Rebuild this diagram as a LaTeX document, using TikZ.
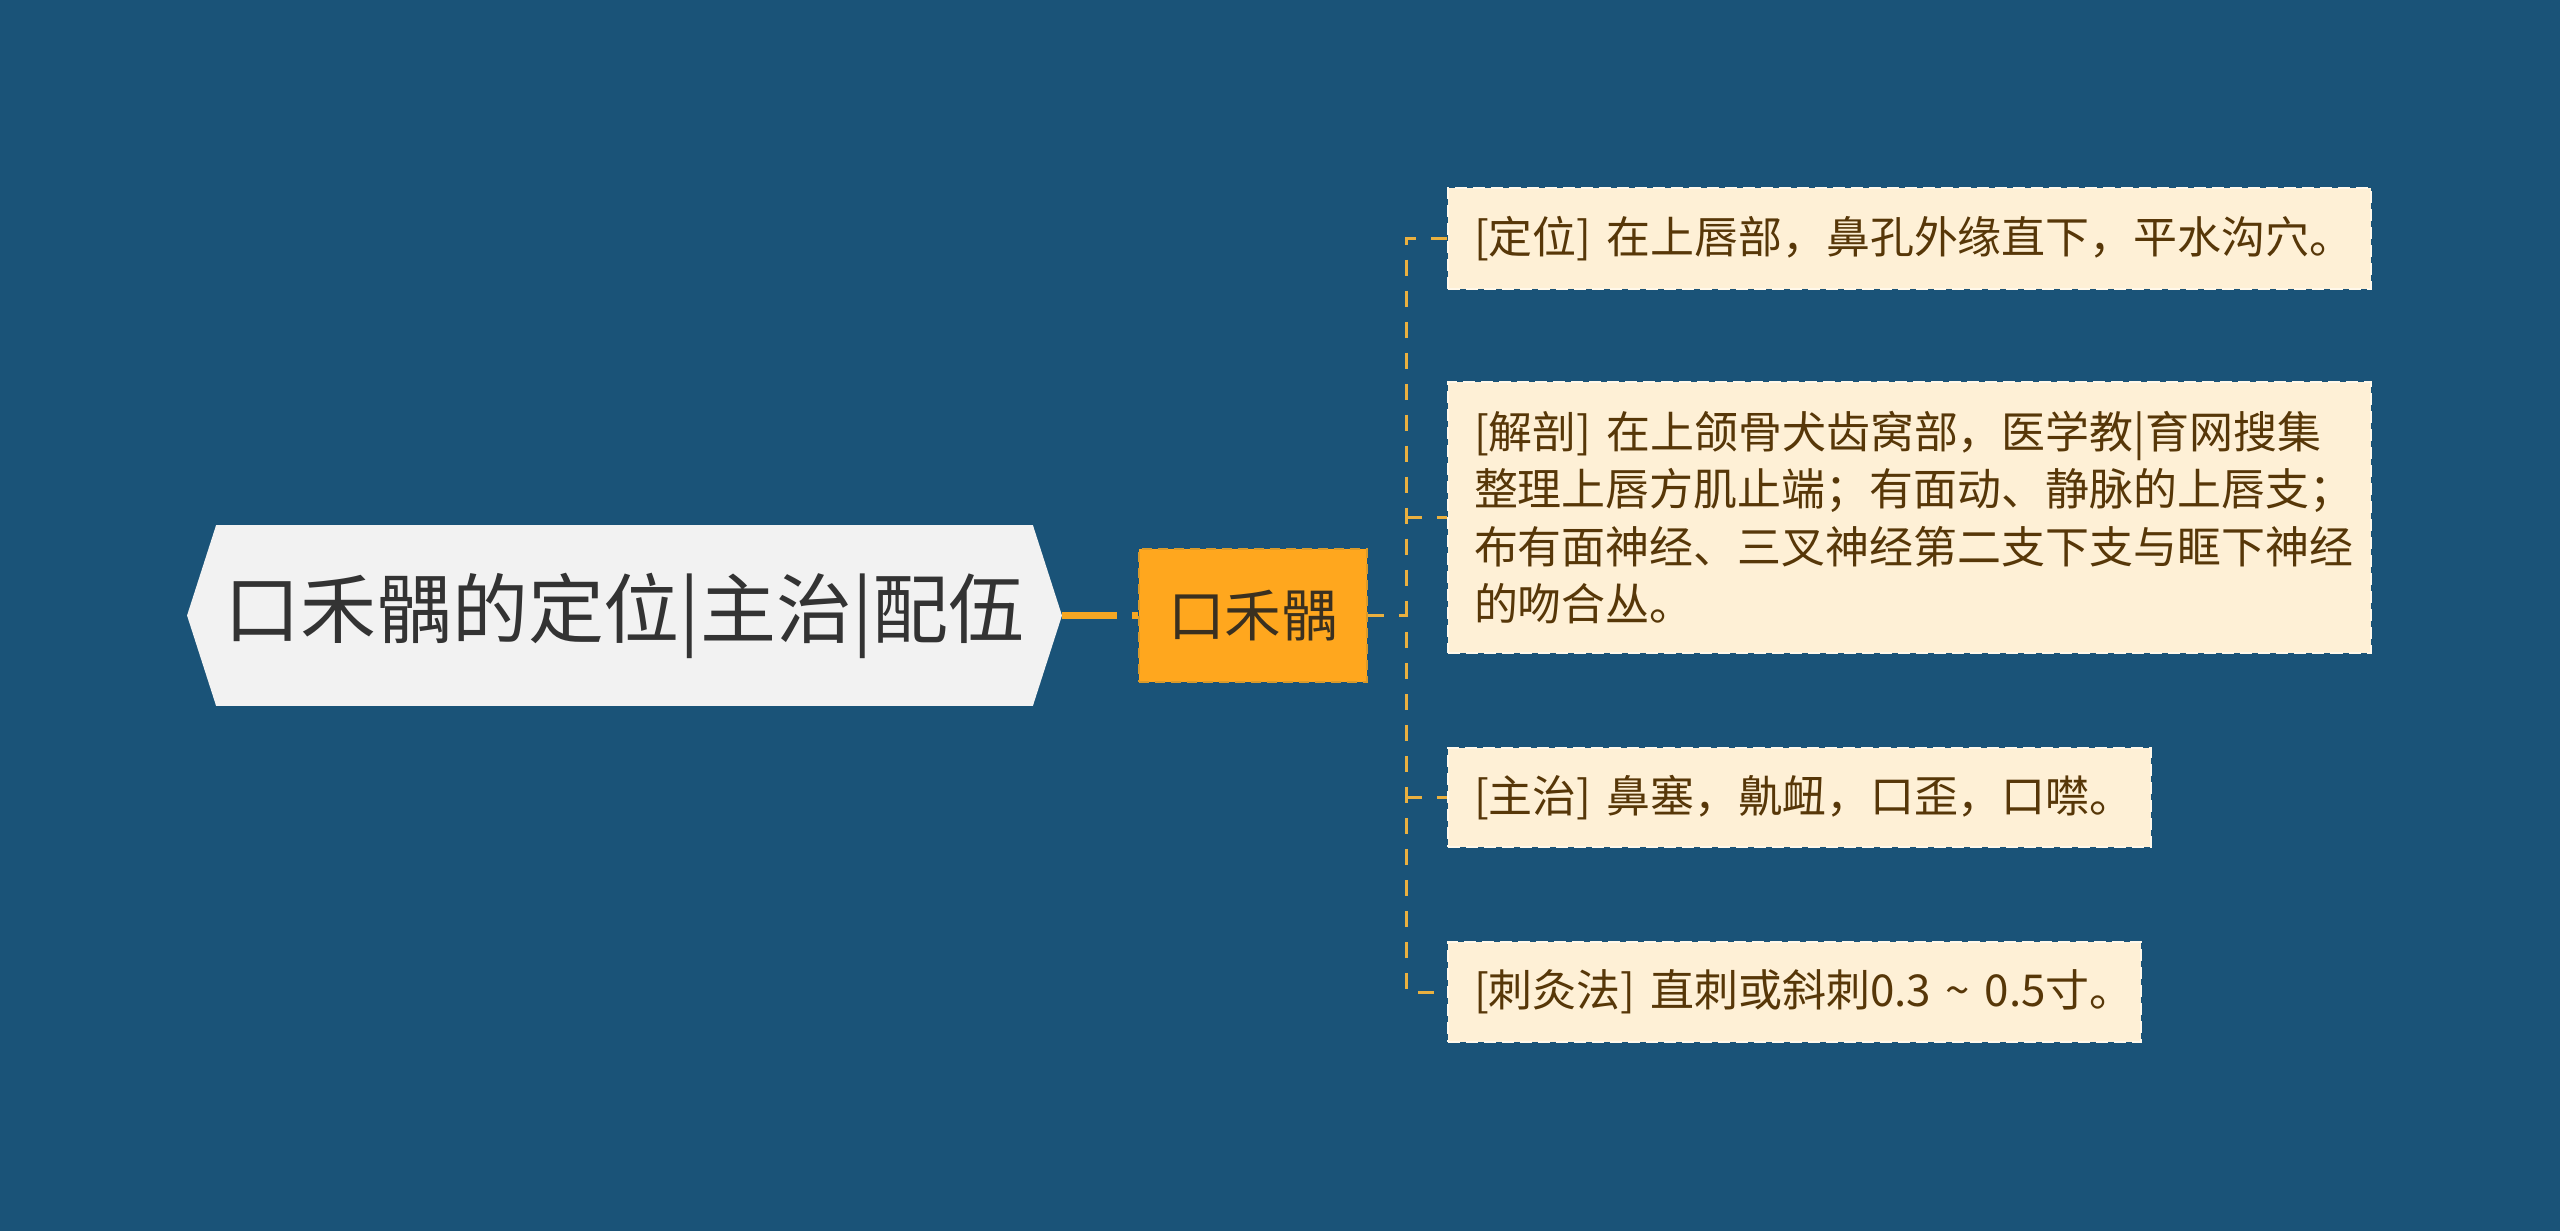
\documentclass[tikz,border=0pt]{standalone}
\usepackage{fontspec}
\setmainfont{Noto Sans CJK SC}
\usetikzlibrary{backgrounds}
\definecolor{bgblue}{HTML}{1A5378}
\definecolor{rootfill}{HTML}{F2F2F2}
\definecolor{roottext}{HTML}{333333}
\definecolor{midfill}{HTML}{FFA71E}
\definecolor{midborder}{HTML}{D99A2B}
\definecolor{midtext}{HTML}{3A3020}
\definecolor{leaffill}{HTML}{FEF0D6}
\definecolor{leafborder}{HTML}{FFF8EA}
\definecolor{leaftext}{HTML}{573708}
\definecolor{linkorange}{HTML}{F5A623}
\definecolor{linkgold}{HTML}{E9B040}
\begin{document}
\begin{tikzpicture}[x=0.01cm,y=-0.01cm,
  rootnode/.style={inner sep=0pt, minimum width=8.73cm, minimum height=1.79cm, text=roottext, font=\fontsize{21.6}{25}\selectfont},
  midnode/.style={fill=midfill, draw=midborder, line width=0.02cm, dash pattern=on 0.1cm off 0.06cm, minimum width=2.28cm, minimum height=1.33cm, inner sep=0pt, text=midtext, font=\fontsize{16.1}{19}\selectfont},
  leafnode/.style={anchor=west, fill=leaffill, draw=leafborder, line width=0.02cm, dash pattern=on 0.12cm off 0.06cm, inner xsep=0.26cm, inner ysep=0pt, align=left, text=leaftext, font=\fontsize{12.5}{16.3}\selectfont},
  thicklink/.style={draw=linkorange, line width=0.065cm, dash pattern=on 0.55cm off 0.15cm},
  thinlink/.style={draw=linkgold, line width=0.03cm, dash pattern=on 0.16cm off 0.15cm},
]
\useasboundingbox (0,0) rectangle (2560,1231);
\node[rootnode] (root) at (624.5,615.5) {口禾髃的定位|主治|配伍};
\begin{scope}[on background layer]
  \fill[bgblue] (0,0) rectangle (2560,1231);
  \fill[rootfill] (root.west) -- ([xshift=0.29cm]root.north west) -- ([xshift=-0.29cm]root.north east) -- (root.east) -- ([xshift=-0.29cm]root.south east) -- ([xshift=0.29cm]root.south west) -- cycle;
\end{scope}
\node[midnode] (mid) at (1253,615.5) {口禾髃};
\node[leafnode, text width=8.70cm, minimum height=1.01cm] (l1) at (1447,238.5) {\mbox{[定位] 在上唇部，鼻孔外缘直下，平水沟穴。}};
\node[leafnode, text width=8.70cm, minimum height=2.71cm] (l2) at (1447,517.5) {\mbox{[解剖] 在上颌骨犬齿窝部，医学教|育网搜集}\\\mbox{整理上唇方肌止端；有面动、静脉的上唇支；}\\\mbox{布有面神经、三叉神经第二支下支与眶下神经}\\\mbox{的吻合丛。}};
\node[leafnode, text width=6.51cm, minimum height=0.99cm] (l3) at (1447,797.5) {\mbox{[主治] 鼻塞，鼽衄，口歪，口噤。}};
\node[leafnode, text width=6.41cm, minimum height=1.00cm] (l4) at (1447,992) {\mbox{[刺灸法] 直刺或斜刺0.3 \textasciitilde{} 0.5寸。}};
\coordinate (vx) at (1406,615.5);
\draw[thicklink] (root.east) -- (mid.west);
\draw[thinlink] (mid.east) -- (vx);
\draw[thinlink] (l1.west) -| (vx) |- (l4.west);
\draw[thinlink] (vx |- l2.west) -- (l2.west);
\draw[thinlink] (vx |- l3.west) -- (l3.west);
\end{tikzpicture}
\end{document}
